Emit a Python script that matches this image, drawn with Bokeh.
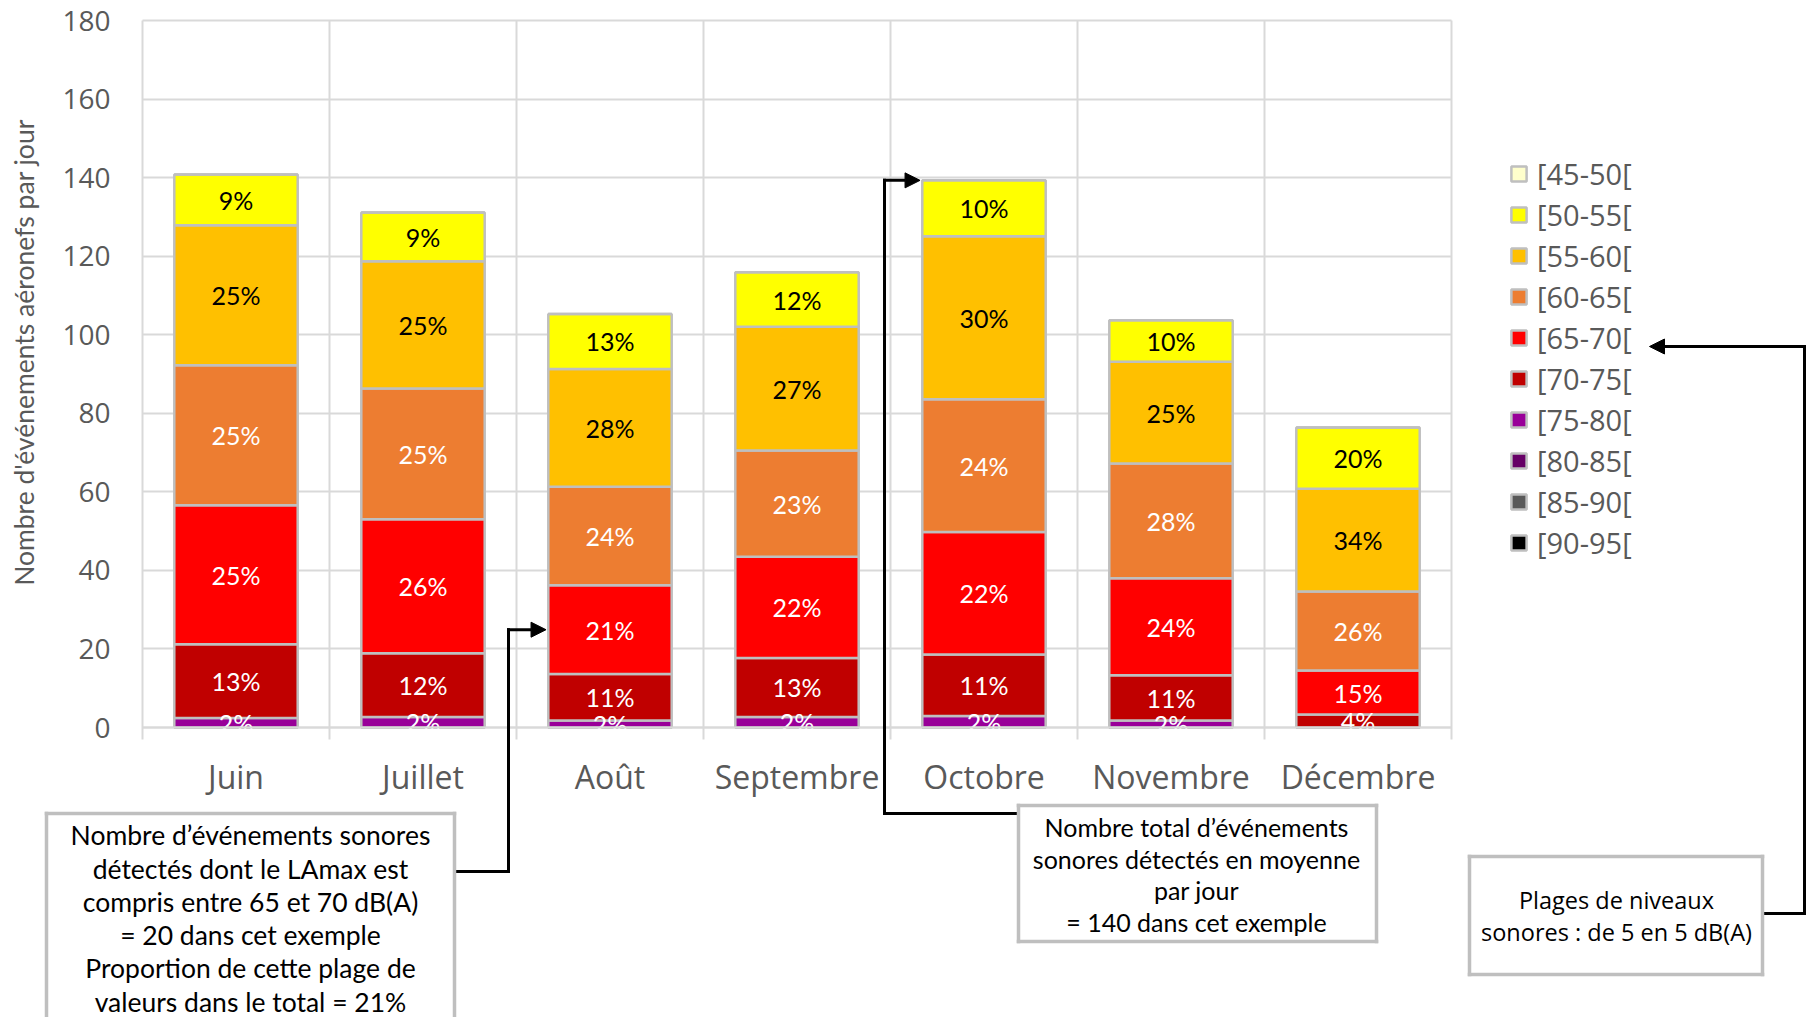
import math
from bokeh.plotting import figure
from bokeh.models import (ColumnDataSource, Range1d, FixedTicker, Legend, LegendItem,
                          Label, Arrow, NormalHead, LinearAxis)
from bokeh.embed import file_html
from bokeh.resources import INLINE
from bokeh.core.properties import value

# ---------------- data ----------------
months = ["Juin", "Juillet", "Août", "Septembre", "Octobre", "Novembre", "Décembre"]
bands = ["[45-50[", "[50-55[", "[55-60[", "[60-65[", "[65-70[",
         "[70-75[", "[75-80[", "[80-85[", "[85-90[", "[90-95["]
b45_50 = [0, 0, 0, 0, 0, 0, 0]
b50_55 = [12.9, 12.4, 14.0, 13.9, 14.2, 10.6, 15.6]
b55_60 = [35.7, 32.4, 30.0, 31.5, 41.5, 25.9, 26.2]
b60_65 = [35.6, 33.3, 25.1, 27.0, 33.8, 29.2, 20.1]
b65_70 = [35.4, 34.1, 22.6, 25.8, 31.2, 24.7, 11.2]
b70_75 = [18.8, 16.2, 11.8, 15.0, 15.7, 11.5, 3.3]
b75_80 = [2.4, 2.7, 1.8, 2.7, 2.9, 1.8, 0.0]
b80_85 = [0, 0, 0, 0, 0, 0, 0]
b85_90 = [0, 0, 0, 0, 0, 0, 0]
b90_95 = [0, 0, 0, 0, 0, 0, 0]
y_ticks = [0, 20, 40, 60, 80, 100, 120, 140, 160, 180]

band_values = [b45_50, b50_55, b55_60, b60_65, b65_70, b70_75, b75_80, b80_85, b85_90, b90_95]
colors = ["#FFFFCC", "#FFFF00", "#FFC000", "#ED7D31", "#FF0000",
          "#C00000", "#990099", "#660066", "#595959", "#000000"]
text_colors = ["black", "black", "black", "white", "white",
               "white", "white", "white", "white", "white"]

# ---------------- layout (pixels of the 1814x1017 canvas) ----------------
W, H = 1814, 1017
PL, PR = 142, 1451        # x = 0 .. 7
PT, PB = 20, 727          # y = 180 .. 0
GRID = "#D9D9D9"
TXT = "#595959"
BOXC = "#BFBFBF"
BAR_W = 0.66


def dx(X):
    return (X - PL) * 7 / (PR - PL)


def dy(Y):
    return (PB - Y) * 180 / (PB - PT)


xs = [i + 0.5 for i in range(len(months))]
data = {"x": xs}
keys = []
for name, vals in zip(bands, band_values):
    k = "k" + name.strip("[").replace("-", "_")
    data[k] = vals
    keys.append(k)
src = ColumnDataSource(data)

p = figure(x_range=Range1d(dx(0), dx(W)), y_range=Range1d(dy(H), dy(0)),
           width=W, height=H, min_border=0,
           x_axis_location=None, y_axis_location=None,
           output_backend="svg", toolbar_location=None,
           background_fill_color="white", border_fill_color="white")
p.outline_line_color = None
p.xgrid.visible = False
p.ygrid.visible = False

# y axis (its inner ticks form the horizontal grid, behind the bars)
yax = LinearAxis(fixed_location=0, bounds=(0, 180), ticker=FixedTicker(ticks=y_ticks),
                 axis_line_color=None, major_tick_line_color=GRID, major_tick_line_width=2,
                 major_tick_in=PR - PL, major_tick_out=0, minor_tick_line_color=None,
                 major_label_text_font="Open Sans", major_label_text_font_size="28px",
                 major_label_text_color=TXT, major_label_standoff=32, level="underlay")
p.add_layout(yax, "left")

# vertical category separators (behind the bars)
xgr = LinearAxis(fixed_location=0, bounds=(0, 7),
                 ticker=FixedTicker(ticks=[], minor_ticks=list(range(len(months) + 1))),
                 axis_line_color=None, major_tick_line_color=None,
                 minor_tick_line_color=GRID, minor_tick_line_width=2,
                 minor_tick_in=PB - PT, minor_tick_out=12,
                 major_label_text_font_size="0px", level="underlay")
p.add_layout(xgr, "below")

# stacked bars (bottom band first)
stack_keys = keys[::-1]
stack_cols = colors[::-1]
rends = p.vbar_stack(stack_keys, x="x", width=BAR_W, source=src,
                     fill_color=stack_cols, line_color=BOXC, line_width=2.5)
rend_by_key = dict(zip(stack_keys, rends))

# percentage labels
lx, ly, lt, lc = [], [], [], []
for i in range(len(months)):
    total = sum(v[i] for v in band_values)
    base = 0.0
    for bi in range(len(bands) - 1, -1, -1):
        v = band_values[bi][i]
        if v > 0:
            lx.append(xs[i])
            ly.append(base + v / 2)
            lt.append(f"{round(100 * v / total)}%")
            lc.append(text_colors[bi])
        base += v
p.text(x=lx, y=ly, text=lt, text_color=lc, text_align="center",
       text_baseline="middle", text_font=value("Lato"), text_font_size="25px")

# x axis with month names (above the bars so the base line stays visible)
xax = LinearAxis(fixed_location=0, bounds=(0, 7), ticker=FixedTicker(ticks=xs),
                 major_label_overrides={x: m for x, m in zip(xs, months)},
                 axis_line_color=GRID, axis_line_width=2,
                 major_tick_line_color=None, major_tick_in=0, major_tick_out=0,
                 minor_tick_line_color=None,
                 major_label_text_font="Open Sans", major_label_text_font_size="32px",
                 major_label_text_color=TXT, major_label_standoff=27)
p.add_layout(xax, "below")

p.add_layout(Label(x=dx(23), y=dy(352), text="Nombre d'événements aéronefs par jour",
                   angle=math.pi / 2, text_align="center", text_baseline="middle",
                   text_font="Lato", text_font_size="26.5px", text_color=TXT))

# legend
items = [LegendItem(label=b, renderers=[rend_by_key[k]]) for b, k in zip(bands, keys)]
leg = Legend(items=items, location=(1509, H - 562), orientation="vertical",
             glyph_width=19, glyph_height=19, label_height=19, spacing=2,
             label_standoff=9, padding=0, margin=0,
             border_line_color=None, background_fill_alpha=0,
             label_text_font="Open Sans", label_text_font_size="29px",
             label_text_color=TXT)
p.add_layout(leg, "center")


# ---------------- callouts ----------------
def seg(x0, y0, x1, y1, color="black", width=3, head=None):
    p.add_layout(Arrow(x_start=x0, y_start=y0, x_end=x1, y_end=y1, start=None, end=head,
                       line_color=color, line_width=width, line_cap="square"))


def head():
    return NormalHead(size=15, fill_color="black", line_color="black")


def box(X0, Y0, X1, Y1):
    seg(dx(X0), dy(Y0), dx(X1), dy(Y0), BOXC, 3.5)
    seg(dx(X1), dy(Y0), dx(X1), dy(Y1), BOXC, 3.5)
    seg(dx(X1), dy(Y1), dx(X0), dy(Y1), BOXC, 3.5)
    seg(dx(X0), dy(Y1), dx(X0), dy(Y0), BOXC, 3.5)


def note(Xc, Yc, text, size, lh, font="Lato"):
    p.add_layout(Label(x=dx(Xc), y=dy(Yc), text=text, text_align="center",
                       text_baseline="middle", text_font=font, text_font_size=size,
                       text_line_height=lh, text_color="black"))


# callout 1 : Août, [65-70[
aout = months.index("Août")
y_red = b75_80[aout] + b70_75[aout] + b65_70[aout] / 2
seg(dx(454), dy(871), dx(508), dy(871))
seg(dx(508), dy(871), dx(508), y_red)
seg(dx(508), y_red, xs[aout] - BAR_W / 2 - 0.012, y_red, head=head())
box(46, 813, 454, 1030)
note(250, 918, "Nombre d’événements sonores\ndétectés dont le LAmax est\ncompris entre 65 et 70 dB(A)\n"
     "= 20 dans cet exemple\nProportion de cette plage de\nvaleurs dans le total = 21%",
     "26.5px", 1.04)

# callout 2 : Octobre total
octo = months.index("Octobre")
tot_oct = sum(v[octo] for v in band_values)
seg(dx(1018), dy(813), dx(884), dy(813))
seg(dx(884), dy(813), dx(884), tot_oct)
seg(dx(884), tot_oct, xs[octo] - BAR_W / 2 - 0.012, tot_oct, head=head())
box(1018, 805, 1376, 941)
note(1196, 874, "Nombre total d’événements\nsonores détectés en moyenne\npar jour\n= 140 dans cet exemple",
     "25px", 1.05)

# callout 3 : legend
seg(dx(1762), dy(913), dx(1804), dy(913))
seg(dx(1804), dy(913), dx(1804), dy(346))
seg(dx(1804), dy(346), dx(1649), dy(346), head=head())
box(1469, 856, 1762, 974)
note(1616, 915, "Plages de niveaux\nsonores : de 5 en 5 dB(A)", "23.5px", 1.0, font="Open Sans")

open("out.html", "w").write(file_html(p, INLINE))
